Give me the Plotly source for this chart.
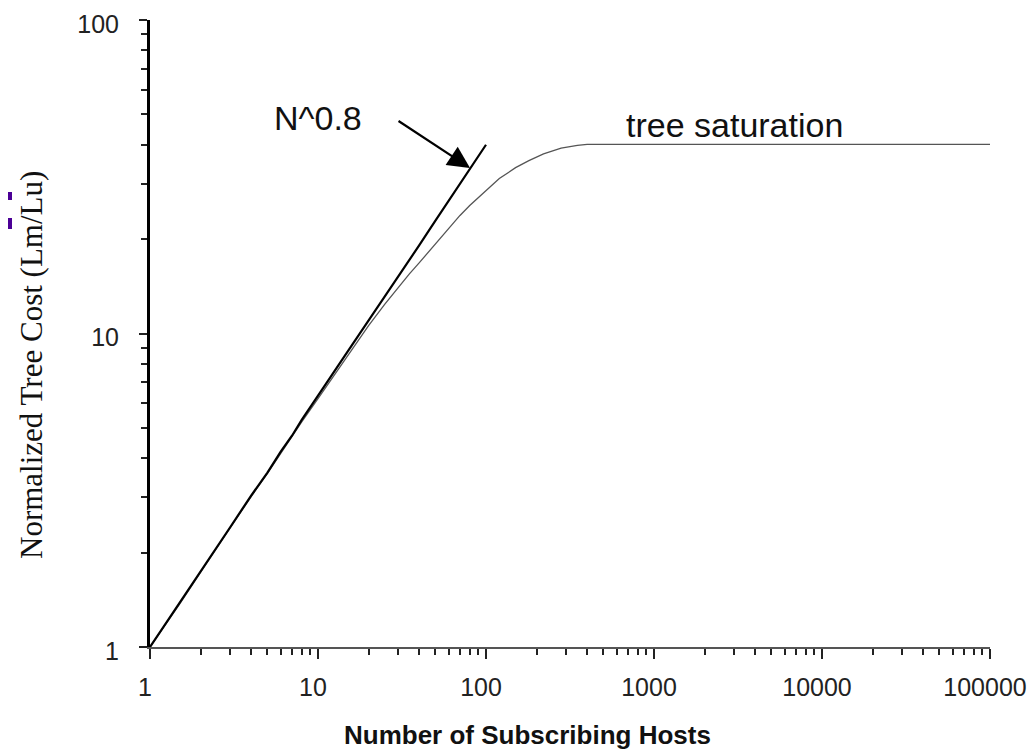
import plotly.graph_objects as go

# ---- data ----
fit_hosts = [1, 1.5, 2, 3, 4, 5, 6, 7, 8, 10, 12, 15, 18, 20, 25, 30, 35, 40, 50, 60, 70, 80, 90, 100]
fit_cost = [1.00, 1.38, 1.74, 2.41, 3.04, 3.60, 4.20, 4.72, 5.30, 6.30, 7.32, 8.75, 10.1, 11.0,
            13.1, 15.2, 17.2, 19.1, 22.9, 26.5, 29.8, 33.2, 36.5, 40.0]

tree_hosts = [1, 1.5, 2, 3, 4, 5, 6, 7, 8, 10, 12, 15, 18, 20, 25, 30, 35, 40, 50, 60, 70, 80,
              100, 120, 150, 180, 220, 280, 350, 400, 1000, 10000, 100000]
tree_cost = [1.00, 1.37, 1.73, 2.40, 3.02, 3.58, 4.15, 4.68, 5.22, 6.20, 7.15, 8.50, 9.80, 10.6,
             12.4, 14.0, 15.5, 16.8, 19.3, 21.6, 23.8, 25.6, 28.5, 31.2, 33.8, 35.6, 37.4, 39.0,
             39.8, 40.1, 40.1, 40.1, 40.1]

x_tickvals = [1, 10, 100, 1000, 10000, 100000]
x_ticktext = ["1", "10", "100", "1000", "10000", "100000"]
y_tickvals = [1, 10, 100]
y_ticktext = ["1", "10", "100"]

fig = go.Figure()
fig.add_trace(go.Scatter(x=tree_hosts, y=tree_cost, mode="lines",
                         line=dict(color="#555555", width=1.3), showlegend=False))
fig.add_trace(go.Scatter(x=fit_hosts, y=fit_cost, mode="lines",
                         line=dict(color="#000000", width=2.2), showlegend=False))

# page body has an 8px margin, so the figure is drawn 8px smaller and offset
W, H = 1028, 742
L, R, T, B = 142, 46, 12, 103

axis_font = dict(family="Liberation Sans, Arial, sans-serif", size=25, color="#222222")

fig.update_layout(
    width=W, height=H,
    margin=dict(l=L, r=R, t=T, b=B, autoexpand=False),
    plot_bgcolor="white", paper_bgcolor="white",
    showlegend=False,
    xaxis=dict(type="log", range=[0, 5], showgrid=False, zeroline=False, automargin=False,
               showline=True, linecolor="#555555", linewidth=2,
               ticks="outside", ticklen=10, tickwidth=2, tickcolor="#222222",
               tickvals=x_tickvals, ticktext=x_ticktext, tickfont=axis_font,
               ticklabelstandoff=7, ticklabelshift=-5, ticklabeloverflow="allow",
               minor=dict(ticks="outside", ticklen=6, tickwidth=2, tickcolor="#222222",
                          dtick="D1", showgrid=False)),
    yaxis=dict(type="log", range=[0, 2], showgrid=False, zeroline=False, automargin=False,
               showline=True, linecolor="#000000", linewidth=3,
               ticks="outside", ticklen=8, tickwidth=2, tickcolor="#222222",
               tickvals=y_tickvals, ticktext=y_ticktext, tickfont=axis_font,
               ticklabelstandoff=15, ticklabelshift=4, ticklabeloverflow="allow",
               minor=dict(ticks="outside", ticklen=6, tickwidth=2, tickcolor="#222222",
                          dtick="D1", showgrid=False)),
)

pw, ph = W - L - R, H - T - B
OFF = 8

def px(sx):
    return (sx - OFF - L) / pw

def py(sy):
    return (H - B - (sy - OFF)) / ph

annotations = [
    # arrow pointing at the N^0.8 curve
    dict(x=1.905, y=1.528, xref="x", yref="y", text="", showarrow=True,
         ax=-73, ay=-48, arrowhead=2, arrowsize=2.0, arrowwidth=2.2, arrowcolor="#000000"),
    dict(x=1.0, y=1.687, xref="x", yref="y", text="N^0.8", showarrow=False,
         xanchor="center", yanchor="middle",
         font=dict(family="Liberation Sans, Arial, sans-serif", size=34, color="#111111")),
    dict(x=3.482, y=1.665, xref="x", yref="y", text="tree saturation", showarrow=False,
         xanchor="center", yanchor="middle",
         font=dict(family="Liberation Sans, Arial, sans-serif", size=34, color="#111111")),
    dict(x=px(527), y=py(735), xref="paper", yref="paper", text="<b>Number of Subscribing Hosts</b>",
         xanchor="center", yanchor="middle",
         showarrow=False, font=dict(family="Liberation Sans, Arial, sans-serif", size=26, color="#111111")),
    dict(x=px(31), y=py(365), xref="paper", yref="paper", text="Normalized Tree Cost (Lm/Lu)",
         xanchor="center", yanchor="middle",
         textangle=-90, showarrow=False,
         font=dict(family="Liberation Serif, Times New Roman, serif", size=31, color="#111111")),
]
fig.update_layout(annotations=annotations)

# small purple slide-edge marks at the far left
fig.add_shape(type="rect", xref="paper", yref="paper", x0=px(8), x1=px(12), y0=py(200), y1=py(192),
              fillcolor="#4B0096", line=dict(width=0))
fig.add_shape(type="rect", xref="paper", yref="paper", x0=px(8), x1=px(12), y0=py(229), y1=py(218),
              fillcolor="#4B0096", line=dict(width=0))

fig.write_html("out.html")
